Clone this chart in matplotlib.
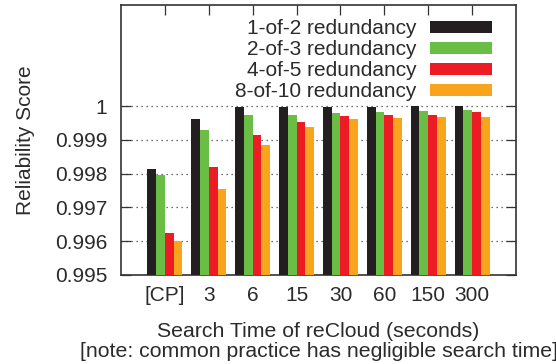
import numpy as np
import matplotlib
matplotlib.use("Agg")
import matplotlib.pyplot as plt

plt.rcParams["font.family"] = ["Liberation Sans", "DejaVu Sans"]

# search time (categories)
categories = ["[CP]", "3", "6", "15", "30", "60", "150", "300"]

# reliability score per redundancy scheme
series_names = ["1-of-2 redundancy", "2-of-3 redundancy",
                "4-of-5 redundancy", "8-of-10 redundancy"]
r_1of2 = [0.99815, 0.99961, 0.99996, 0.99996, 0.99996, 0.99996, 0.99999, 0.99999]
r_2of3 = [0.99795, 0.99928, 0.99975, 0.99975, 0.99978, 0.99981, 0.99984, 0.99987]
r_4of5 = [0.99623, 0.99819, 0.99913, 0.99952, 0.99972, 0.99975, 0.99975, 0.99981]
r_8of10 = [0.99600, 0.99754, 0.99884, 0.99937, 0.99961, 0.99964, 0.99967, 0.99967]

yticks = [0.995, 0.996, 0.997, 0.998, 0.999, 1.0]
ytick_labels = ["0.995", "0.996", "0.997", "0.998", "0.999", "1"]

colors = ["#231f20", "#6abd45", "#ed1c24", "#f8a41d"]
text_col = "#2b2b2b"
fs = 15

fig = plt.figure(figsize=(5.56, 3.64), dpi=100)
ax = fig.add_axes([121 / 556, 1 - 275 / 364, (516 - 121) / 556, (275 - 4.7) / 364])

x = np.arange(len(categories))
width = 0.2
all_series = [r_1of2, r_2of3, r_4of5, r_8of10]
base = 0.995
for i, (vals, name, c) in enumerate(zip(all_series, series_names, colors)):
    offs = (i - 1.5) * width
    ax.bar(x + offs, np.array(vals) - base, width, bottom=base, color=c,
           label=name, zorder=3, linewidth=0)

ax.set_xlim(-1, 8)
ax.set_ylim(0.995, 1.003)
ax.set_xticks(x)
ax.set_xticklabels(categories)
ax.set_yticks(yticks)
ax.set_yticklabels(ytick_labels)

for yv in yticks[1:]:
    ax.axhline(yv, color="#444444", linestyle=(0, (1, 3)), linewidth=0.9, zorder=1)

ax.tick_params(axis="both", labelsize=fs, labelcolor=text_col, color="#333333",
               direction="in", length=7, width=0.9)
ax.tick_params(axis="x", bottom=False, top=True, pad=8)
ax.tick_params(axis="y", left=True, right=True, pad=10)

for sp in ax.spines.values():
    sp.set_color("#333333")
    sp.set_linewidth(1.2)

ax.set_ylabel("Reliability Score", fontsize=fs, color=text_col, labelpad=14)
ax.set_xlabel("Search Time of reCloud (seconds)\n"
              "[note: common practice has negligible search time]",
              fontsize=15.3, color=text_col, linespacing=1.05, labelpad=12)

leg = ax.legend(loc="upper right", bbox_to_anchor=(0.972, 0.993), frameon=False,
                markerfirst=False, fontsize=fs, handlelength=3.0,
                handleheight=0.5, labelspacing=0.1, handletextpad=0.65,
                borderpad=0.1)
for t in leg.get_texts():
    t.set_color(text_col)

fig.savefig("out.png", dpi=100)
